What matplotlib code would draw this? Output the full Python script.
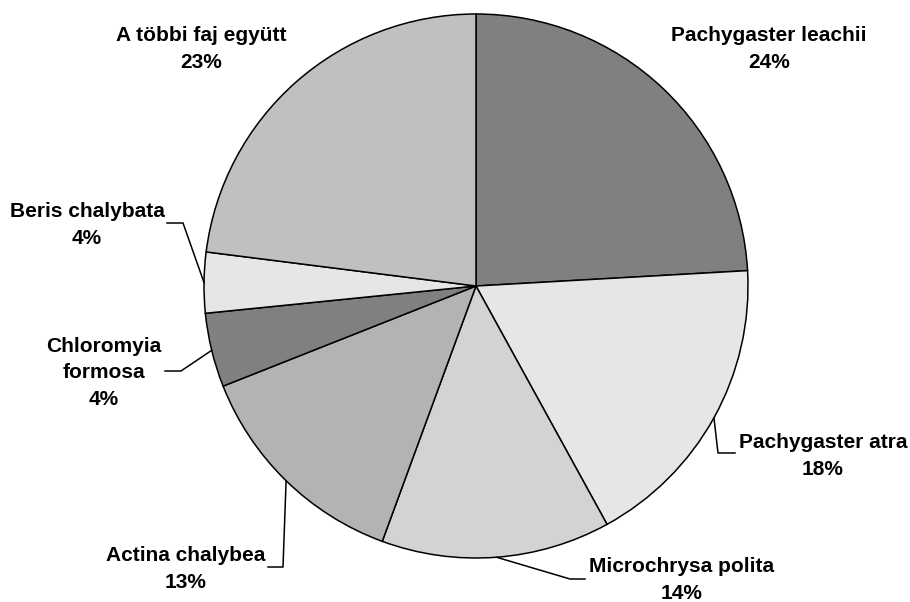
import numpy as np
import matplotlib
matplotlib.use("Agg")
import matplotlib.pyplot as plt

plt.rcParams['font.family'] = ['Liberation Sans', 'DejaVu Sans']

# fajok és arányuk (%)
species = ["Pachygaster leachii", "Pachygaster atra", "Microchrysa polita",
           "Actina chalybea", "Chloromyia\nformosa", "Beris chalybata",
           "A többi faj együtt"]
shares = [24.1, 17.9, 13.6, 13.4, 4.4, 3.6, 23.0]
colors = ["#808080", "#e6e6e6", "#d3d3d3", "#b3b3b3", "#808080", "#e6e6e6", "#c0c0c0"]

W, H = 910, 602
cx, cy, r = 476, H - 286, 272

fig = plt.figure(figsize=(W / 100, H / 100), dpi=100)
ax = fig.add_axes([0, 0, 1, 1])
wedges, _ = ax.pie(shares, colors=colors, startangle=90, counterclock=False,
                   center=(cx, cy), radius=r,
                   wedgeprops=dict(edgecolor="black", linewidth=1.1))
ax.set_xlim(0, W)
ax.set_ylim(0, H)
ax.set_aspect("equal")
ax.axis("off")

# címke helyek (pixel, y lefelé); töréspontok a vezetővonalakhoz
label_pos = [(769, 49), (823, 456), (682, 580), (186, 569), (104, 373), (87, 225), (201, 49)]
leaders = [None, [(718, 453), (735, 453)], [(570, 579), (585, 579)],
           [(283, 567), (268, 567)], [(181, 371), (165, 371)],
           [(183, 223), (167, 223)], None]

total = sum(shares)
for w, name, val, (lx, ly), lead in zip(wedges, species, shares, label_pos, leaders):
    txt = "%s\n%.0f%%" % (name, val / total * 100)
    ax.text(lx, H - ly, txt, ha="center", va="center", fontsize=15,
            fontweight="bold", linespacing=1.5)
    if lead:
        th = np.deg2rad((w.theta1 + w.theta2) / 2)
        xs = [cx + r * np.cos(th)] + [p[0] for p in lead]
        ys = [cy + r * np.sin(th)] + [H - p[1] for p in lead]
        ax.plot(xs, ys, color="black", lw=1.1)

fig.savefig("out.png", dpi=100)
